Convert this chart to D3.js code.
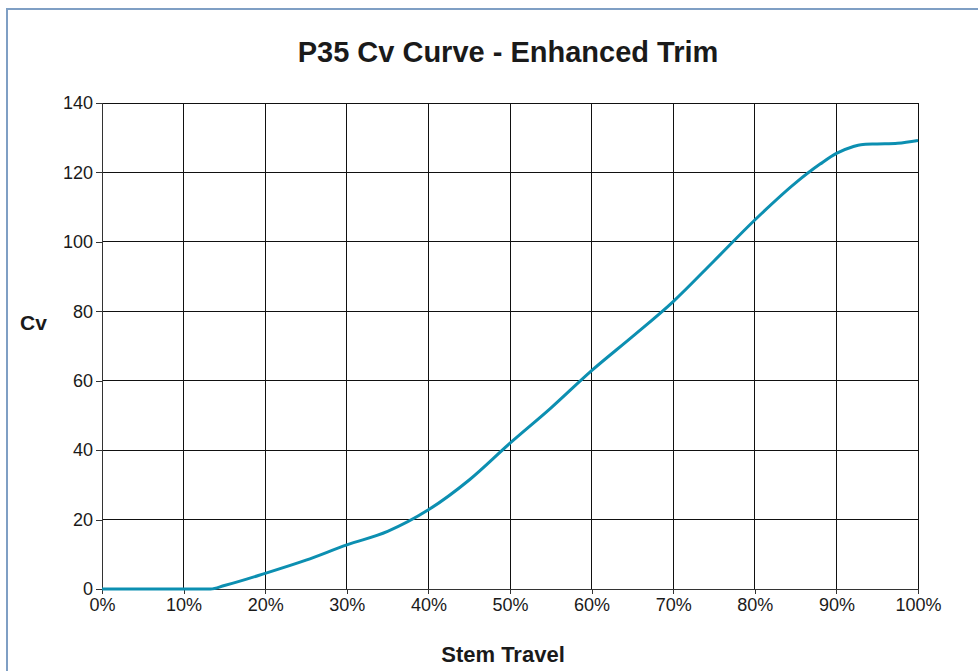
<!DOCTYPE html>
<html>
<head>
<meta charset="utf-8">
<script src="https://cdn.jsdelivr.net/npm/d3@7"></script>
<style>
  body { margin: 0; background: #fff; }
  svg { display: block; }
  text { font-family: "Liberation Sans", Arial, sans-serif; fill: #1a1a1a; }
</style>
</head>
<body>
<div id="chart"></div>
<script>
// chart data
var travel = [0, 5, 10, 13.3, 15, 20, 25, 30, 35, 40, 45, 50, 55, 60, 65, 70, 75, 80, 85, 88, 90, 92, 93, 95, 97.5, 100];
var cvValues = [0, 0, 0, 0, 1.0, 4.5, 8.3, 12.7, 16.6, 22.8, 31.4, 42, 52.1, 62.9, 72.7, 82.8, 94.5, 106.3, 117, 122.4, 125.5, 127.4, 128, 128.2, 128.4, 129.2];
var xTicks = [0, 10, 20, 30, 40, 50, 60, 70, 80, 90, 100];
var yTicks = [0, 20, 40, 60, 80, 100, 120, 140];

var svgWidth = 978;
var svgHeight = 671;

var margin = { top: 103, right: 60, bottom: 82, left: 102 };
var width = 918 - margin.left;
var height = 589 - margin.top;

var svg = d3.select("#chart")
  .append("svg")
  .attr("width", svgWidth)
  .attr("height", svgHeight);

// outer frame (only top and left edges show in the picture)
svg.append("path")
  .attr("d", "M7,671 V9 H978")
  .attr("fill", "none")
  .attr("stroke", "#7f9fc4")
  .attr("stroke-width", 2);

var chartGroup = svg.append("g")
  .attr("transform", `translate(${margin.left}, ${margin.top})`);

var xScale = d3.scaleLinear().domain([0, 100]).range([0, width]);
var yScale = d3.scaleLinear().domain([0, 140]).range([height, 0]);

// grid lines
chartGroup.append("g")
  .selectAll("line")
  .data(xTicks)
  .enter()
  .append("line")
  .attr("x1", d => xScale(d))
  .attr("x2", d => xScale(d))
  .attr("y1", 0)
  .attr("y2", height)
  .attr("stroke", "#111")
  .attr("stroke-width", 1)
  .attr("shape-rendering", "crispEdges");

chartGroup.append("g")
  .selectAll("line")
  .data(yTicks)
  .enter()
  .append("line")
  .attr("x1", 0)
  .attr("x2", width)
  .attr("y1", d => yScale(d))
  .attr("y2", d => yScale(d))
  .attr("stroke", "#111")
  .attr("stroke-width", 1)
  .attr("shape-rendering", "crispEdges");

// axes
var bottomAxis = d3.axisBottom(xScale)
  .tickValues(xTicks)
  .tickFormat(d => d + "%")
  .tickSize(5)
  .tickPadding(4);

var leftAxis = d3.axisLeft(yScale)
  .tickValues(yTicks)
  .tickSize(6)
  .tickPadding(3);

var xAxis = chartGroup.append("g")
  .attr("transform", `translate(0, ${height})`)
  .call(bottomAxis);

var yAxis = chartGroup.append("g")
  .call(leftAxis);

[xAxis, yAxis].forEach(function(ax) {
  ax.select(".domain").attr("stroke", "#333").attr("shape-rendering", "crispEdges");
  ax.selectAll(".tick line").attr("stroke", "#333").attr("shape-rendering", "crispEdges");
  ax.selectAll("text")
    .attr("font-size", "18px")
    .attr("font-family", "Liberation Sans, Arial, sans-serif")
    .attr("fill", "#1a1a1a");
});

// the curve
var points = travel.map((t, i) => ({ x: t, y: cvValues[i] }));

var line = d3.line()
  .x(d => xScale(d.x))
  .y(d => yScale(d.y))
  .curve(d3.curveMonotoneX);

chartGroup.append("path")
  .datum(points)
  .attr("d", line)
  .attr("fill", "none")
  .attr("stroke", "#0c8fb1")
  .attr("stroke-width", 3)
  .attr("stroke-linejoin", "round");

// title and axis labels
svg.append("text")
  .attr("x", 508)
  .attr("y", 62)
  .attr("text-anchor", "middle")
  .attr("font-size", "29px")
  .attr("font-weight", "bold")
  .text("P35 Cv Curve - Enhanced Trim");

svg.append("text")
  .attr("x", 20)
  .attr("y", 330)
  .attr("font-size", "21px")
  .attr("font-weight", "bold")
  .text("Cv");

svg.append("text")
  .attr("x", 503)
  .attr("y", 662)
  .attr("text-anchor", "middle")
  .attr("font-size", "22px")
  .attr("font-weight", "bold")
  .text("Stem Travel");
</script>
</body>
</html>
